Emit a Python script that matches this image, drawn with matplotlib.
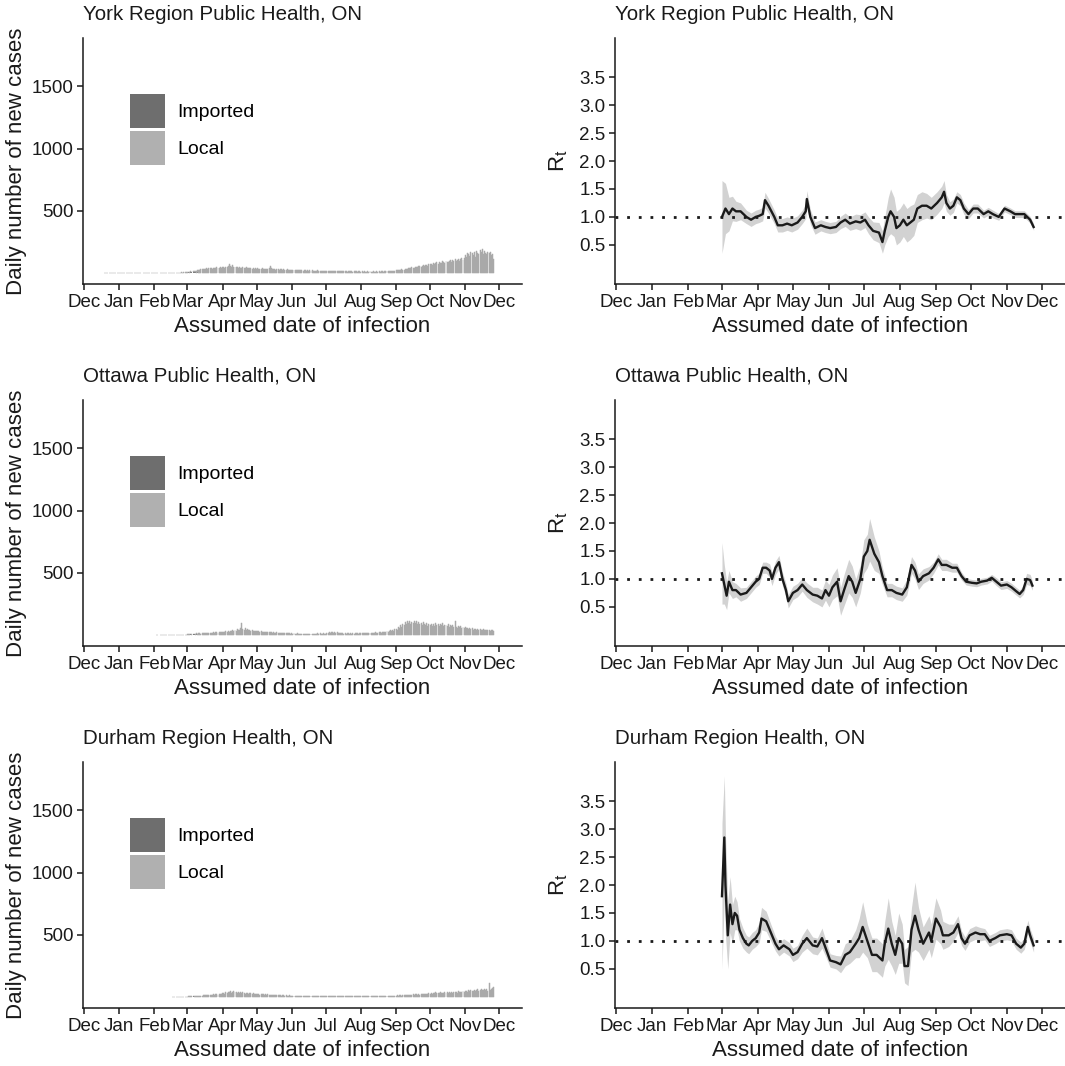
import matplotlib
matplotlib.use("Agg")
import matplotlib.pyplot as plt
import matplotlib.dates as mdates
from matplotlib.patches import Patch
import numpy as np
import pandas as pd

plt.rcParams['font.family'] = ['Liberation Sans', 'DejaVu Sans']
plt.rcParams['mathtext.fontset'] = 'custom'
plt.rcParams['mathtext.rm'] = 'Liberation Sans'
plt.rcParams['mathtext.it'] = 'Liberation Sans'

# ---------------- data ----------------
regions = ["York Region Public Health, ON",
           "Ottawa Public Health, ON",
           "Durham Region Health, ON"]
month_ticks = pd.date_range("2019-12-01", "2020-12-01", freq="MS")
month_labels = ["Dec", "Jan", "Feb", "Mar", "Apr", "May", "Jun",
                "Jul", "Aug", "Sep", "Oct", "Nov", "Dec"]
case_yticks = [500, 1000, 1500]
rt_yticks = [0.5, 1.0, 1.5, 2.0, 2.5, 3.0, 3.5]
legend_labels = ["Imported", "Local"]

# daily local cases (by assumed date of infection)
york_local_start = "2019-12-19"
york_local = [
    1,0,0,1,0,0,0,1,0,0,1,0,0,
    0,1,0,0,0,1,0,0,1,0,0,0,1,0,0,1,0,0,0,1,0,1,0,0,1,0,0,1,0,1,0,
    1,0,1,0,0,1,1,0,1,0,1,1,0,1,1,0,1,2,1,1,2,1,2,2,3,2,3,4,3,
    4,5,6,8,7,10,12,11,15,18,22,20,26,28,31,27,33,35,30,38,36,40,34,39,42,37,44,41,38,45,40,
    43,47,41,50,46,55,73,52,48,60,45,50,44,47,40,49,42,38,45,41,36,43,38,35,40,37,33,39,34,36,
    32,35,30,33,29,36,31,28,34,30,33,40,57,35,30,28,33,26,29,31,25,30,27,24,28,26,23,27,25,22,26,
    24,21,25,22,20,23,19,22,20,24,18,21,19,17,20,18,22,16,19,17,15,18,16,20,17,14,18,15,17,16,
    15,17,14,16,13,18,15,12,16,14,13,17,12,15,11,14,13,16,12,10,14,11,13,12,10,13,11,12,10,13,11,
    10,12,9,11,10,8,12,9,11,10,9,13,8,10,11,9,12,10,13,11,10,14,12,11,15,13,16,14,17,15,18,
    20,22,19,25,23,28,26,24,30,33,29,36,40,35,45,42,38,50,48,44,52,55,49,58,62,54,60,66,58,70,
    68,75,64,80,72,78,85,70,88,82,76,92,86,80,95,90,84,98,104,88,100,94,110,96,102,115,92,108,120,100,118,
    140,125,160,150,135,170,158,145,165,130,172,160,150,180,165,195,155,175,162,148,170,158,165,140,150,108,
]
york_imported_start = "2020-03-01"
york_imported = [2,3,2,4,3,5,4,3,2,3,2,1,1,1,0,1,0,0,1,0]

ottawa_local_start = "2020-02-03"
ottawa_local = [
    1,0,0,1,0,0,1,0,0,0,1,0,0,1,0,1,0,0,1,0,1,0,1,1,0,1,1,
    2,1,3,2,4,3,5,6,8,7,10,12,9,14,11,13,15,12,16,14,18,15,17,20,16,19,22,18,21,24,20,
    23,26,21,28,25,30,24,32,27,35,29,38,33,45,40,36,52,98,48,42,55,38,44,35,40,31,36,28,33,30,
    32,27,30,25,28,22,26,24,21,25,20,23,19,22,17,20,18,16,19,15,17,14,16,13,15,12,14,11,13,12,10,
    11,9,12,10,8,11,9,10,7,9,8,10,7,9,8,6,9,7,8,10,7,9,8,11,9,12,10,8,11,9,
    10,13,18,22,15,20,24,17,21,14,19,16,12,15,11,14,10,13,9,12,11,10,13,9,12,10,11,14,12,10,13,
    12,15,11,14,13,16,12,17,14,15,18,13,16,20,17,15,19,22,18,21,25,20,24,28,23,30,35,29,40,34,45,
    50,42,60,55,75,65,90,80,100,85,110,95,115,88,105,92,112,98,108,90,102,85,95,80,100,88,75,92,70,85,
    78,90,72,85,68,95,80,88,72,84,76,92,70,82,80,74,86,65,80,70,76,62,108,66,58,70,62,68,55,64,58,
    60,52,58,48,55,45,52,42,50,46,40,48,38,45,42,36,44,38,42,35,40,37,33,38,35,32,
]
ottawa_imported_start = "2020-03-01"
ottawa_imported = [1,2,1,3,2,3,4,2,3,2,1,1,0,1,0]

durham_local_start = "2020-02-17"
durham_local = [
    0,1,0,0,1,0,0,1,0,1,0,1,1,
    1,2,1,2,3,2,4,3,5,6,8,7,10,9,12,11,14,13,16,15,18,14,17,20,16,19,22,18,24,21,26,
    28,32,25,35,30,42,38,45,33,40,48,36,42,30,38,34,40,28,35,31,26,33,29,24,30,27,22,28,25,21,
    24,20,23,18,22,19,21,17,20,16,19,15,18,14,17,13,16,12,15,11,14,12,10,13,11,9,12,10,8,11,9,
    8,10,7,9,6,8,7,5,8,6,7,5,6,8,5,7,4,6,5,7,4,6,5,4,6,3,5,4,6,4,
    5,3,6,4,5,3,7,4,5,6,3,5,4,6,3,5,4,3,5,4,6,3,4,5,3,4,6,3,5,4,3,
    4,3,5,4,3,5,4,6,3,4,5,3,4,6,4,5,3,4,5,6,4,5,7,5,6,8,6,7,9,7,10,
    9,12,8,11,13,10,14,12,15,11,16,13,18,14,17,20,15,19,22,17,21,18,24,20,23,26,19,25,22,28,
    24,30,26,32,27,35,29,33,28,36,31,34,30,38,32,36,29,40,34,37,31,42,35,39,33,44,38,41,36,45,40,
    43,48,40,52,46,55,44,50,58,47,53,62,49,56,60,52,58,65,54,60,50,114,57,62,70,81,
]
durham_imported_start = "2020-03-01"
durham_imported = [1,1,2,1,2,3,2,2,1,1,0,1]

# Rt estimates: days after rt_start, mean and half-width of credible band
rt_start = "2020-03-01"
york_rt_day = [0,3,6,9,12,16,21,25,29,32,35,37,40,45,48,52,56,60,65,69,
               72,73,76,80,85,89,93,98,102,106,110,115,119,123,126,130,135,138,140,143,
               145,148,150,153,156,159,162,165,168,172,176,180,185,189,191,193,196,199,202,205,
               208,212,216,220,225,229,233,238,243,248,252,256,260,265,268]
york_rt = [1.0,1.15,1.05,1.15,1.1,1.1,1.0,0.95,1.0,1.02,
           1.05,1.3,1.2,1.0,0.85,0.85,0.88,0.85,0.9,1.0,
           1.1,1.32,1.0,0.8,0.85,0.82,0.8,0.82,0.9,0.95,
           0.88,0.92,0.9,0.95,0.85,0.75,0.72,0.55,0.75,1.0,
           1.1,1.0,0.8,0.85,0.95,0.85,0.9,0.95,1.15,1.2,
           1.2,1.15,1.25,1.35,1.45,1.25,1.15,1.2,1.35,1.3,
           1.15,1.05,1.15,1.15,1.05,1.1,1.05,1.0,1.15,1.1,
           1.05,1.05,1.05,0.95,0.82]
york_rt_hw = [0.65,0.45,0.3,0.22,0.18,0.15,0.12,0.12,0.12,0.12,
              0.12,0.14,0.13,0.12,0.12,0.12,0.12,0.12,0.12,0.12,
              0.13,0.15,0.13,0.11,0.1,0.1,0.1,0.1,0.11,0.12,
              0.12,0.13,0.14,0.14,0.15,0.16,0.18,0.2,0.25,0.35,
              0.4,0.35,0.3,0.3,0.3,0.3,0.3,0.28,0.25,0.25,
              0.22,0.2,0.2,0.2,0.2,0.15,0.12,0.12,0.1,0.1,
              0.1,0.08,0.08,0.08,0.07,0.07,0.07,0.06,0.06,0.06,
              0.06,0.06,0.06,0.06,0.06]

ottawa_rt_day = [0,2,4,6,9,12,16,21,25,29,32,35,38,41,43,46,49,52,55,57,
                 61,65,69,73,78,82,86,89,92,95,99,102,105,109,112,115,119,122,125,127,
                 131,135,138,142,146,150,155,159,163,166,169,173,178,182,186,189,193,198,202,206,
                 210,215,219,223,228,232,236,240,245,249,253,256,259,262,265,267]
ottawa_rt = [1.1,0.9,0.7,0.95,0.8,0.8,0.72,0.75,0.85,0.95,
             1.0,1.2,1.2,1.15,1.0,1.2,1.3,1.0,0.8,0.6,
             0.75,0.8,0.9,0.8,0.72,0.7,0.65,0.8,0.7,0.85,
             0.95,0.6,0.8,1.05,0.95,0.75,1.0,1.4,1.5,1.7,
             1.45,1.3,1.05,0.8,0.8,0.75,0.72,0.85,1.25,1.15,
             0.95,1.05,1.1,1.2,1.35,1.25,1.25,1.2,1.2,1.05,
             0.95,0.93,0.92,0.95,0.97,1.02,0.95,0.88,0.9,0.85,
             0.78,0.73,0.8,1.0,0.98,0.88]
ottawa_rt_hw = [0.55,0.35,0.25,0.2,0.15,0.12,0.12,0.1,0.1,0.1,
                0.1,0.1,0.1,0.12,0.12,0.12,0.12,0.12,0.12,0.12,
                0.12,0.12,0.12,0.13,0.13,0.15,0.15,0.18,0.2,0.22,
                0.25,0.25,0.28,0.3,0.28,0.25,0.25,0.3,0.3,0.38,
                0.3,0.2,0.15,0.12,0.12,0.12,0.12,0.14,0.15,0.15,
                0.14,0.13,0.12,0.1,0.1,0.1,0.1,0.08,0.08,0.07,
                0.06,0.06,0.06,0.06,0.06,0.06,0.07,0.07,0.07,0.07,
                0.07,0.07,0.08,0.1,0.1,0.08]

durham_rt_day = [0,2,3,5,7,9,11,13,15,18,21,23,26,29,32,34,38,42,46,49,
                 53,58,61,65,69,73,78,82,86,89,93,98,102,106,110,115,118,121,125,129,
                 133,138,140,143,146,149,152,155,157,160,163,166,169,173,178,180,184,188,190,195,
                 199,203,206,209,213,218,222,226,230,235,239,245,249,253,257,260,263,265,268]
durham_rt = [1.8,2.85,2.0,1.1,1.65,1.3,1.5,1.45,1.2,1.05,
             0.95,0.92,1.0,1.05,1.15,1.4,1.35,1.15,0.95,0.85,
             0.92,0.85,0.75,0.8,0.95,1.05,0.92,0.9,1.05,0.88,
             0.65,0.62,0.58,0.75,0.8,0.95,1.05,1.25,1.0,0.75,
             0.75,0.65,0.95,1.22,0.95,0.75,1.05,0.95,0.55,0.55,
             1.2,1.45,1.2,0.95,1.15,1.0,1.4,1.25,1.1,1.1,
             1.15,1.3,1.05,0.95,1.1,1.15,1.12,1.12,1.0,1.05,
             1.1,1.12,1.1,0.95,0.88,0.95,1.25,1.1,0.92]
durham_rt_hw = [1.3,1.1,0.9,0.6,0.5,0.35,0.3,0.25,0.2,0.18,
                0.15,0.15,0.15,0.15,0.18,0.2,0.18,0.15,0.13,0.12,
                0.12,0.12,0.12,0.12,0.15,0.18,0.15,0.15,0.18,0.15,
                0.12,0.12,0.15,0.2,0.2,0.25,0.35,0.45,0.3,0.3,
                0.3,0.3,0.4,0.55,0.4,0.35,0.45,0.35,0.3,0.35,
                0.4,0.6,0.4,0.3,0.3,0.3,0.37,0.3,0.25,0.2,
                0.15,0.15,0.13,0.12,0.12,0.12,0.12,0.1,0.1,0.1,
                0.1,0.1,0.1,0.1,0.1,0.1,0.12,0.12,0.12]

panels = [
    (regions[0], york_local_start, york_local, york_imported_start, york_imported,
     york_rt_day, york_rt, york_rt_hw),
    (regions[1], ottawa_local_start, ottawa_local, ottawa_imported_start, ottawa_imported,
     ottawa_rt_day, ottawa_rt, ottawa_rt_hw),
    (regions[2], durham_local_start, durham_local, durham_imported_start, durham_imported,
     durham_rt_day, durham_rt, durham_rt_hw),
]

# ---------------- style ----------------
TXT = "#1a1a1a"
IMP_C = "#6e6e6e"
LOC_C = "#b0b0b0"
BAR_C = "#a9a9a9"
BAND_C = "#d2d2d2"
TICK_FS = 13.5
LAB_FS = 16
TITLE_FS = 14.8

W, H = 1065, 1066
fig = plt.figure(figsize=(W / 100, H / 100), dpi=100)
row_tops = [38, 400, 762]
AX_H = 246
XLIM = (pd.Timestamp("2019-11-30"), pd.Timestamp("2020-12-21"))


def style_axes(ax):
    for s in ["top", "right"]:
        ax.spines[s].set_visible(False)
    for s in ["left", "bottom"]:
        ax.spines[s].set_linewidth(1.1)
        ax.spines[s].set_color(TXT)
    ax.tick_params(axis="both", length=4.5, width=1.1, color=TXT,
                   labelsize=TICK_FS, labelcolor=TXT, pad=2.5)
    ax.set_xlim(*XLIM)
    ax.set_xticks(month_ticks)
    ax.set_xticklabels(month_labels)
    ax.set_xlabel("Assumed date of infection", fontsize=LAB_FS, color=TXT)
    ax.xaxis.set_label_coords(0.5, -0.132)


for (title, lstart, local, istart, imported, rday, rt, rhw), top in zip(panels, row_tops):
    bottom_frac = 1 - (top + AX_H) / H
    # ---- case counts ----
    ax = fig.add_axes([83 / W, bottom_frac, 439 / W, AX_H / H])
    loc_s = pd.Series(local, index=pd.date_range(lstart, periods=len(local), freq="D"))
    imp_s = pd.Series(imported, index=pd.date_range(istart, periods=len(imported), freq="D"))
    imp_s = imp_s.reindex(loc_s.index, fill_value=0)
    ax.bar(loc_s.index, imp_s.values, width=0.85, color=IMP_C, linewidth=0)
    ax.bar(loc_s.index, loc_s.values, bottom=imp_s.values, width=0.85,
           color=BAR_C, edgecolor=BAR_C, linewidth=0.35)
    ax.set_ylim(-90, 1890)
    ax.set_yticks(case_yticks)
    style_axes(ax)
    ax.set_ylabel("Daily number of new cases", fontsize=LAB_FS, color=TXT)
    ax.yaxis.set_label_coords(-0.128, 0.5)
    ax.set_title(title, loc="left", fontsize=TITLE_FS, color=TXT, pad=13)
    handles = [Patch(facecolor=IMP_C, edgecolor="none"),
               Patch(facecolor=LOC_C, edgecolor="none")]
    ax.legend(handles, legend_labels, loc="upper left", bbox_to_anchor=(0.107, 0.772),
              frameon=False, fontsize=14, handlelength=1.8, handleheight=2.3,
              labelspacing=0.15, handletextpad=0.65, borderpad=0, borderaxespad=0)

    # ---- Rt ----
    ax2 = fig.add_axes([615 / W, bottom_frac, 450 / W, AX_H / H])
    dates = pd.Timestamp(rt_start) + pd.to_timedelta(rday, unit="D")
    rt_a = np.array(rt)
    hw_a = np.array(rhw)
    ax2.fill_between(dates, rt_a - hw_a, rt_a + hw_a, color=BAND_C, linewidth=0, zorder=1)
    ax2.axhline(1.0, color=TXT, linestyle=(0, (1, 3.2)), linewidth=2.0, zorder=2)
    ax2.plot(dates, rt_a, color=TXT, linewidth=1.7, zorder=3)
    ax2.set_ylim(-0.2, 4.2)
    ax2.set_yticks(rt_yticks)
    ax2.set_yticklabels([f"{v:.1f}" for v in rt_yticks])
    style_axes(ax2)
    ax2.set_ylabel(r"$\mathregular{R_t}$", fontsize=LAB_FS, color=TXT)
    ax2.yaxis.set_label_coords(-0.10, 0.5)
    ax2.set_title(title, loc="left", fontsize=TITLE_FS, color=TXT, pad=13)

fig.savefig("out.png", dpi=100)
